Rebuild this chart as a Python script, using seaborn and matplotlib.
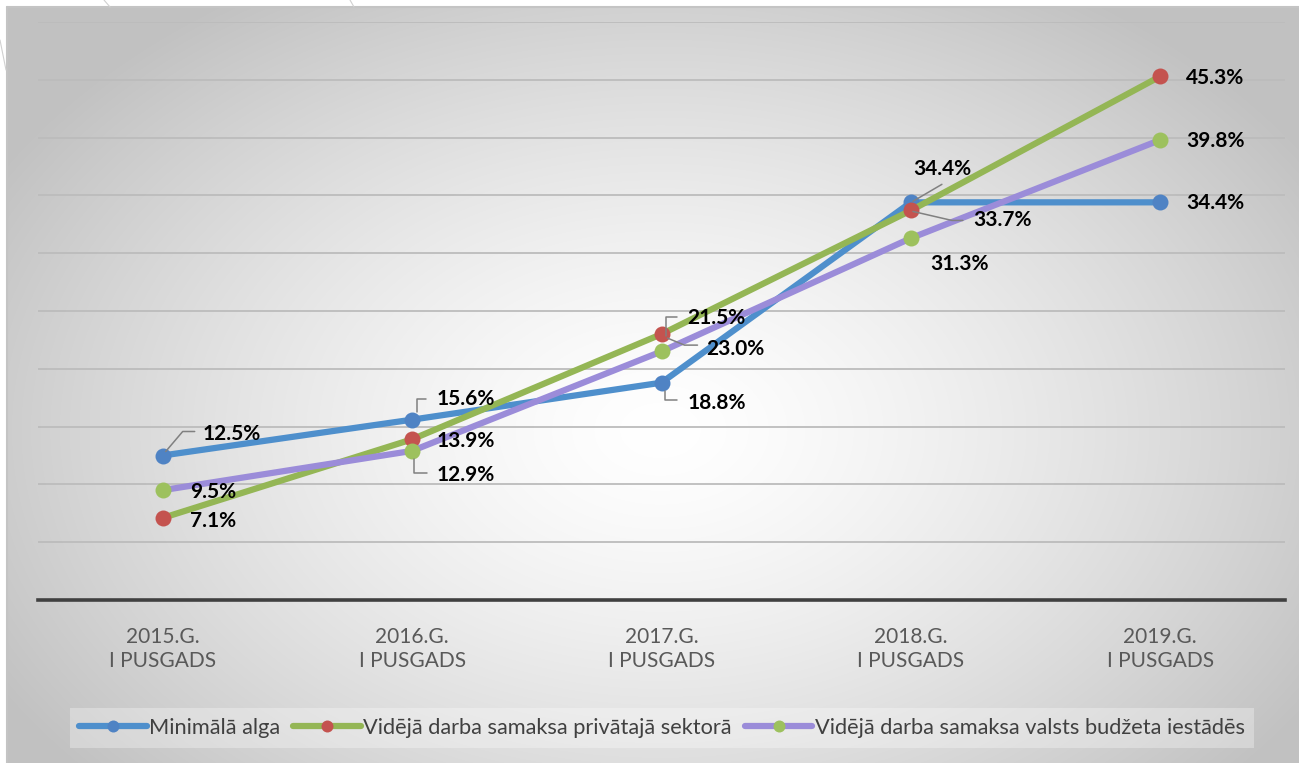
"""
Minimālā alga un vidējā darba samaksa: pieaugums pret bāzes periodu
"""

import numpy as np
import matplotlib.pyplot as plt
import matplotlib.transforms as mtransforms
import seaborn as sns


# Dati
categories = ["2015.G.\nI PUSGADS", "2016.G.\nI PUSGADS", "2017.G.\nI PUSGADS",
              "2018.G.\nI PUSGADS", "2019.G.\nI PUSGADS"]
min_alga = [12.5, 15.6, 18.8, 34.4, 34.4]
privatais = [7.1, 13.9, 23.0, 33.7, 45.3]
budzets = [9.5, 12.9, 21.5, 31.3, 39.8]
min_alga_labels = ["12.5%", "15.6%", "18.8%", "34.4%", "34.4%"]
privatais_labels = ["7.1%", "13.9%", "23.0%", "33.7%", "45.3%"]
budzets_labels = ["9.5%", "12.9%", "21.5%", "31.3%", "39.8%"]
series_names = ["Minimālā alga",
                "Vidējā darba samaksa privātajā sektorā",
                "Vidējā darba samaksa valsts budžeta iestādēs"]

sns.set_style("white")
plt.rcParams['font.family'] = ['Lato', 'DejaVu Sans']

W, H, DPI = 1299, 763, 100
fig = plt.figure(figsize=(W / DPI, H / DPI), dpi=DPI)

# fons ar radiālu gradientu
bg = fig.add_axes([0, 0, 1, 1], zorder=-10)
yy, xx = np.mgrid[0:H, 0:W]
r = np.sqrt(((xx - 660) / 760.0) ** 2 + ((yy - 430) / 520.0) ** 2)
shade = 1.0 - 0.24 * np.clip(r, 0, 1) ** 1.4
img = np.dstack([shade, shade, shade])
img[:7, :, :] = 1.0
img[:, :7, :] = 1.0
bg.imshow(img, aspect='auto', extent=(0, W, H, 0))
bg.plot([7, W], [7, 7], color='#c4c4c4', lw=1.5)
bg.plot([7, 7], [7, H], color='#c4c4c4', lw=1.5)
# dekoratīvās līnijas slaida malā
bg.plot([0, 6], [40, 70], color='#d0d0d0', lw=0.8)
bg.plot([104, 110], [0, 7], color='#d0d0d0', lw=0.8)
bg.plot([350, 354], [0, 7], color='#d0d0d0', lw=0.8)
bg.set_xlim(0, W)
bg.set_ylim(H, 0)
bg.axis('off')

ax = fig.add_axes([38 / W, 1 - 600 / H, (1285 - 38) / W, (600 - 22) / H])
ax.patch.set_alpha(0)

line_colors = ['#4e8fcc', '#94b655', '#9b8cd9']
marker_colors = ['#4f83c4', '#c4534f', '#9dc15e']
for vals, name, lc, mc in zip([min_alga, privatais, budzets], series_names,
                              line_colors, marker_colors):
    sns.lineplot(x=categories, y=vals, ax=ax, color=lc, lw=4.5, marker='o',
                 markersize=11.5, markerfacecolor=mc, markeredgewidth=0,
                 label=name, sort=False)

ax.set_xlim(-0.5, 4.5)
ax.set_ylim(0, 50)
ax.set_yticks(np.arange(5, 51, 5))
ax.yaxis.grid(True, color='#bcbcbc', lw=1.3)
ax.set_axisbelow(True)
ax.tick_params(axis='y', left=False, labelleft=False)
ax.tick_params(axis='x', bottom=False, labelsize=15, labelcolor='#595959', pad=16)
for s in ['top', 'right', 'left']:
    ax.spines[s].set_visible(False)
ax.spines['bottom'].set_color('#404040')
ax.spines['bottom'].set_linewidth(2.6)
ax.set_xlabel('')
ax.set_ylabel('')
for t in ax.get_xticklabels():
    t.set_linespacing(1.25)

# datu etiķešu novietojums (pikseļi, y uz leju) un vadlīnijas
text_offsets = [
    [(40, -22), (24, -21), (26, 20), (2, -33), (26, 1)],
    [(27, 3), (24, 2), (45, 15), (62, 10), (26, 2)],
    [(27, 2), (24, 24), (26, -33), (19, 26), (26, 1)],
]
leaders = [
    [[(3, -4), (20, -24), (32, -24)], [(5, -8), (5, -21), (14, -21)],
     [(3, 8), (3, 17), (15, 17)], [(2, -1), (31, -18)], None],
    [None, None, [(6, 4), (23, 11), (36, 11)], [(2, 1), (41, 10), (52, 10)], None],
    [None, [(2, 8), (2, 22), (15, 22)], [(4, -15), (4, -34), (15, -34)], None, None],
]
fig.canvas.draw()
for vals, labels, offs, leads in zip([min_alga, privatais, budzets],
                                     [min_alga_labels, privatais_labels, budzets_labels],
                                     text_offsets, leaders):
    for i, (v, lab) in enumerate(zip(vals, labels)):
        dx, dy = offs[i]
        ax.annotate(lab, xy=(i, v), xytext=(dx, -dy), textcoords='offset pixels',
                    ha='left', va='center', fontsize=15, fontweight='bold',
                    color='black', zorder=6)
        if leads[i] is not None:
            px, py = ax.transData.transform((i, v))
            tr = mtransforms.Affine2D().translate(px, py)
            xs = [p[0] for p in leads[i]]
            ys = [-p[1] for p in leads[i]]
            ax.plot(xs, ys, color='#808080', lw=1.1, transform=tr, zorder=5,
                    clip_on=False)

leg = ax.legend(loc='center', bbox_to_anchor=(662 / W, 1 - 728 / H),
                bbox_transform=fig.transFigure, ncol=3, frameon=True,
                fontsize=15.7, handlelength=3.1, handletextpad=0.1,
                columnspacing=0.6, borderpad=0.45, fancybox=False,
                markerscale=0.75)
leg.get_frame().set_facecolor('white')
leg.get_frame().set_alpha(0.3)
leg.get_frame().set_linewidth(0)
for t in leg.get_texts():
    t.set_color('#404040')

fig.savefig('out.png', dpi=DPI)
